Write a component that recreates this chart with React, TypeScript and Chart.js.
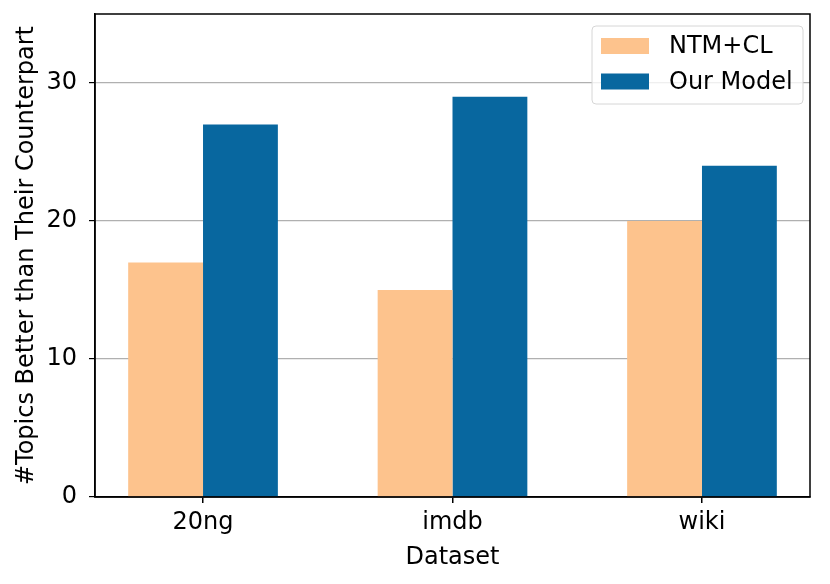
import { useEffect, useRef } from 'react';
import { Chart, registerables } from 'chart.js';

Chart.register(...registerables);

const datasets = ['20ng', 'imdb', 'wiki'];
const ntmCl = [17, 15, 20];
const ourModel = [27, 29, 24];
const seriesNames = ['NTM+CL', 'Our Model'];
const seriesColors = ['#fdc38d', '#08679f'];
const yTicks = [0, 10, 20, 30];

const FONT = "'DejaVu Sans', sans-serif";
const FS = 24;

// box around plot + legend box in the upper right corner
const framePlugin = {
  id: 'frame',
  afterDraw(chart: any) {
    const { ctx, chartArea: a } = chart;
    ctx.save();
    ctx.strokeStyle = '#000';
    ctx.lineWidth = 1.5;
    ctx.strokeRect(a.left, a.top, a.right - a.left, a.bottom - a.top);

    const bx = 592, by = 26, bw = 211, bh = 78;
    ctx.beginPath();
    ctx.roundRect(bx, by, bw, bh, 4);
    ctx.fillStyle = 'rgba(255,255,255,0.8)';
    ctx.fill();
    ctx.strokeStyle = '#d6d6d6';
    ctx.lineWidth = 1;
    ctx.stroke();

    ctx.font = `${FS}px ${FONT}`;
    ctx.textBaseline = 'middle';
    ctx.textAlign = 'left';
    seriesNames.forEach((name, i) => {
      const cy = 46 + i * 35.5;
      ctx.fillStyle = seriesColors[i];
      ctx.fillRect(601, cy - 8, 48, 16);
      ctx.fillStyle = '#000';
      ctx.fillText(name, 669, cy + 1);
    });
    ctx.restore();
  },
};

export default function App() {
  const canvasRef = useRef<HTMLCanvasElement>(null);

  useEffect(() => {
    if (!canvasRef.current) return;
    const chart = new Chart(canvasRef.current, {
      type: 'bar',
      data: {
        datasets: [
          {
            label: seriesNames[0],
            data: ntmCl.map((v, i) => ({ x: i, y: v })),
            backgroundColor: seriesColors[0],
          },
          {
            label: seriesNames[1],
            data: ourModel.map((v, i) => ({ x: i, y: v })),
            backgroundColor: seriesColors[1],
          },
        ],
      },
      options: {
        animation: false,
        responsive: false,
        devicePixelRatio: 1,
        categoryPercentage: 0.6,
        barPercentage: 1.0,
        layout: { padding: { top: 14, right: 20, left: 0, bottom: 0 } },
        plugins: {
          legend: { display: false },
          tooltip: { enabled: false },
        },
        scales: {
          x: {
            type: 'linear',
            offset: false,
            min: -0.433,
            max: 2.433,
            afterBuildTicks: (scale: any) => {
              scale.ticks = datasets.map((_, i) => ({ value: i }));
            },
            afterFit: (scale: any) => {
              scale.height = 87;
              scale.paddingLeft = 0;
              scale.paddingRight = 0;
            },
            ticks: {
              autoSkip: false,
              maxRotation: 0,
              color: '#000',
              padding: 5,
              font: { family: FONT, size: FS },
              callback: (v: any) => datasets[v] ?? '',
            },
            grid: {
              offset: false,
              drawOnChartArea: false,
              drawTicks: true,
              tickLength: 6,
              tickColor: '#000',
              lineWidth: 1.5,
            },
            border: { color: '#000', width: 1.5 },
            title: {
              display: true,
              text: 'Dataset',
              color: '#000',
              font: { family: FONT, size: FS },
              padding: { top: 0, bottom: 12 },
            },
          },
          y: {
            min: 0,
            max: 35,
            afterBuildTicks: (scale: any) => {
              scale.ticks = yTicks.map((v) => ({ value: v }));
            },
            afterFit: (scale: any) => {
              scale.width = 95;
              scale.paddingTop = 0;
              scale.paddingBottom = 0;
            },
            ticks: {
              color: '#000',
              padding: 12,
              font: { family: FONT, size: FS },
            },
            grid: {
              color: '#b0b0b0',
              lineWidth: 1.2,
              drawTicks: true,
              tickLength: 6,
              tickColor: '#000',
            },
            border: { color: '#000', width: 1.5 },
            title: {
              display: true,
              text: '#Topics Better than Their Counterpart',
              color: '#000',
              font: { family: FONT, size: FS },
              padding: { top: 12, bottom: 0 },
            },
          },
        },
      },
      plugins: [framePlugin],
    } as any);

    return () => chart.destroy();
  }, []);

  return (
    <div style={{ position: 'fixed', left: 0, top: 0, width: 830, height: 584, background: '#fff' }}>
      <canvas ref={canvasRef} width={830} height={584} />
    </div>
  );
}
